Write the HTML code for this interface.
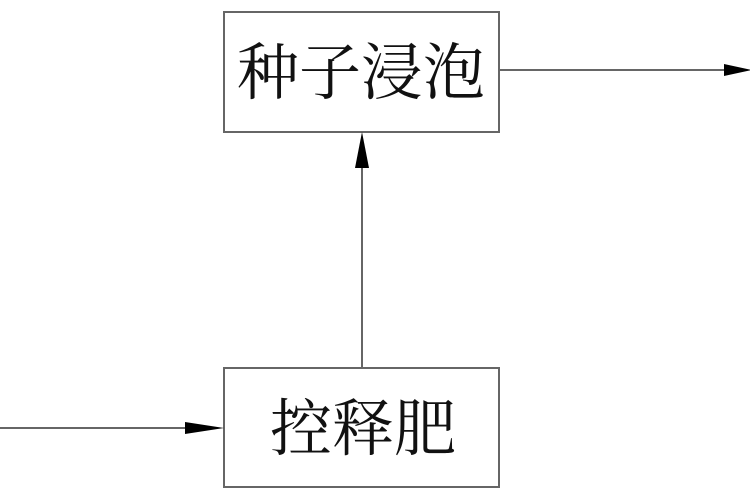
<!DOCTYPE html>
<html><head><meta charset="utf-8"><style>
html,body{margin:0;padding:0;background:#fff;width:750px;height:500px;overflow:hidden}
svg{display:block}
text{font-family:"Liberation Serif","Noto Serif CJK SC",serif;fill:#111}
</style></head><body>
<svg width="750" height="500" viewBox="0 0 750 500">
<g stroke="#666" stroke-width="2" fill="none">
<rect x="224" y="12" width="275" height="120"/>
<rect x="224" y="368" width="275" height="119"/>
<line x1="499" y1="70" x2="728" y2="70"/>
<line x1="362" y1="160" x2="362" y2="368"/>
<line x1="0" y1="428" x2="190" y2="428"/>
</g>
<g fill="#000">
<polygon points="724,64 752,70 724,76"/>
<polygon points="362,132 355,168 369,168"/>
<polygon points="185,422 224,428 185,434"/>
</g>
<text x="361" y="94" font-size="62" text-anchor="middle">种子浸泡</text>
<text x="363" y="450" font-size="62" text-anchor="middle">控释肥</text>
</svg>
</body></html>
